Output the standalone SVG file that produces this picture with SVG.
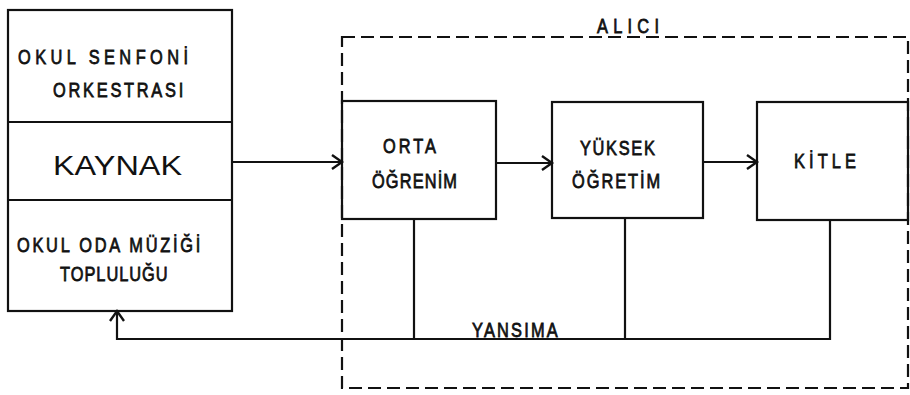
<svg xmlns="http://www.w3.org/2000/svg" width="910" height="395" viewBox="0 0 910 395">
  <style>
    .box { fill: none; stroke: #111; stroke-width: 2.2; }
    .dash { fill: none; stroke: #111; stroke-width: 2.2; stroke-dasharray: 13 6; }
    .ln { fill: none; stroke: #111; stroke-width: 2.2; }
    .t { font-family: "Liberation Sans", "DejaVu Sans", sans-serif; font-size: 21px; fill: #111; stroke: #111; stroke-width: 0.8; }
    .big { font-family: "Liberation Sans", "DejaVu Sans", sans-serif; font-size: 27px; fill: #111; }
  </style>
  <defs>
    <marker id="arr" markerUnits="userSpaceOnUse" markerWidth="16" markerHeight="18" refX="13" refY="9" orient="auto">
      <path d="M3,2 L13,9 L3,16" fill="none" stroke="#111" stroke-width="2.4"/>
    </marker>
  </defs>
  <rect width="910" height="395" fill="#fff"/>

  <g id="alici">
    <rect class="dash" x="342" y="37" width="566" height="351"/>
    <text class="t" transform="translate(597,33) scale(0.78,1)" textLength="79.5" lengthAdjust="spacing">ALICI</text>
  </g>

  <g id="kaynak">
    <rect class="box" x="8" y="10" width="224" height="301"/>
    <line class="ln" x1="8" y1="122" x2="232" y2="122"/>
    <line class="ln" x1="8" y1="200" x2="232" y2="200"/>
    <g id="orkestra">
      <text class="t" transform="translate(18,64) scale(0.78,1)" textLength="218" lengthAdjust="spacing">OKUL SENFONİ</text>
      <text class="t" transform="translate(53,97) scale(0.78,1)" textLength="167" lengthAdjust="spacing">ORKESTRASI</text>
    </g>
    <text class="big" x="53" y="175" textLength="129" lengthAdjust="spacingAndGlyphs">KAYNAK</text>
    <g id="oda">
      <text class="t" transform="translate(17,252) scale(0.78,1)" textLength="235" lengthAdjust="spacing">OKUL ODA MÜZİĞİ</text>
      <text class="t" transform="translate(60,281) scale(0.78,1)" textLength="138" lengthAdjust="spacing">TOPLULUĞU</text>
    </g>
  </g>

  <g id="orta">
    <rect class="box" x="342" y="101" width="154" height="118"/>
    <text class="t" transform="translate(383,153) scale(0.78,1)" textLength="68" lengthAdjust="spacing">ORTA</text>
    <text class="t" transform="translate(372,188) scale(0.78,1)" textLength="109" lengthAdjust="spacing">ÖĞRENİM</text>
  </g>

  <g id="yuksek">
    <rect class="box" x="552" y="102" width="151" height="116"/>
    <text class="t" transform="translate(580,155) scale(0.78,1)" textLength="96" lengthAdjust="spacing">YÜKSEK</text>
    <text class="t" transform="translate(572,188) scale(0.78,1)" textLength="113" lengthAdjust="spacing">ÖĞRETİM</text>
  </g>

  <g id="kitle">
    <rect class="box" x="757" y="102" width="151" height="118"/>
    <text class="t" transform="translate(794,168) scale(0.78,1)" textLength="79.5" lengthAdjust="spacing">KİTLE</text>
  </g>

  <g id="connectors">
    <line class="ln" x1="232" y1="162" x2="342" y2="162" marker-end="url(#arr)"/>
    <line class="ln" x1="496" y1="163" x2="552" y2="163" marker-end="url(#arr)"/>
    <line class="ln" x1="703" y1="162" x2="757" y2="162" marker-end="url(#arr)"/>
    <line class="ln" x1="414" y1="219" x2="414" y2="339"/>
    <line class="ln" x1="625" y1="218" x2="625" y2="339"/>
    <polyline class="ln" points="830,220 830,339 117,339 117,311" marker-end="url(#arr)"/>
    <text class="t" transform="translate(472,337) scale(0.78,1)" textLength="110" lengthAdjust="spacing">YANSIMA</text>
  </g>
</svg>
